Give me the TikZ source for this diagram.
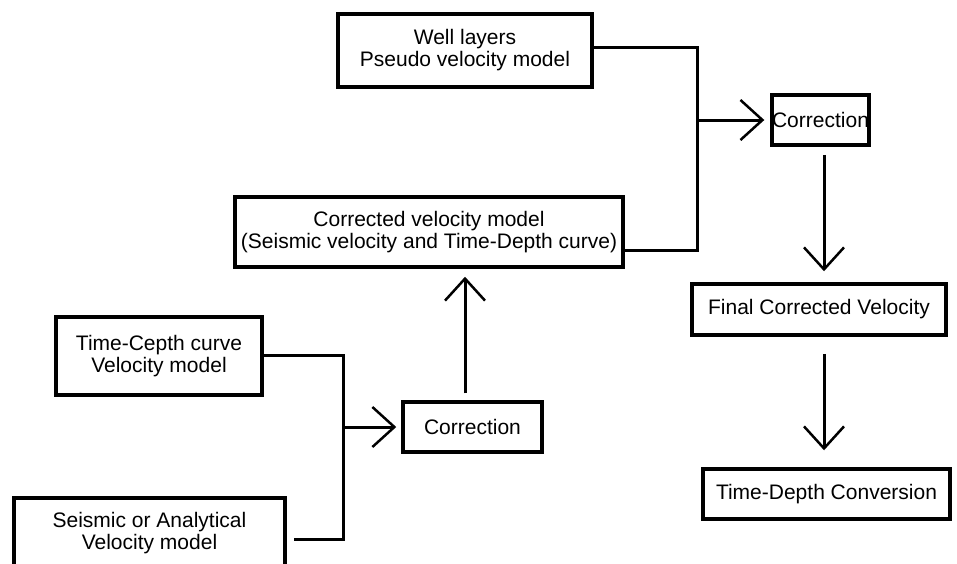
\documentclass[tikz,border=0pt]{standalone}
\usepackage{fontspec}
\setmainfont{Liberation Sans}
\usetikzlibrary{arrows.meta,calc}
\begin{document}
\begin{tikzpicture}[x=1pt,y=-1pt,
  box/.style={draw, line width=3.5pt, inner sep=0pt, align=center,
    font=\fontsize{21}{22}\selectfont},
  conn/.style={line width=3pt},
  arr/.style={line width=3pt, -{Straight Barb[length=22pt,width=40pt,line width=2.5pt]}}]
\clip (0,0) rectangle (957,563);
\fill[white] (0,0) rectangle (957,563);
% nodes
\node[box, minimum width=254pt, minimum height=73pt] (well) at (465,50.5) {Well layers\\Pseudo velocity model};
\node[box, minimum width=95pt, minimum height=50pt] (corr1) at (820.5,120) {Correction};
\node[box, minimum width=388pt, minimum height=70pt] (mid) at (429,232) {Corrected velocity model\\(Seismic velocity and Time-Depth curve)};
\node[box, minimum width=254pt, minimum height=51pt] (final) at (819,309.5) {Final Corrected Velocity};
\node[box, minimum width=247pt, minimum height=50pt] (tdc) at (826.5,494) {Time-Depth Conversion};
\node[box, minimum width=206pt, minimum height=78pt] (tc) at (159,356) {Time-Cepth curve\\Velocity model};
\node[box, minimum width=271pt, minimum height=70pt] (seis) at (149.5,533) {Seismic or Analytical\\Velocity model};
\node[box, minimum width=139pt, minimum height=50pt] (corr2) at (472.5,427) {Correction};
% junction coordinates
\coordinate (rt) at (697,47);
\coordinate (rb) at (697,250);
\coordinate (lt) at (343,355);
\coordinate (lb) at (343,539);
% right merge
\draw[conn] (well.east |- rt) -- (rt) -- (rb) -- (mid.east |- rb);
\draw[arr, shorten >=6pt] (rt |- corr1.west) -- (corr1.west);
% left merge
\draw[conn] (tc.east |- lt) -- (lt) -- (lb) -- ([xshift=7pt]seis.east |- lb);
\draw[arr, shorten >=5pt] (lt |- corr2.west) -- (corr2.west);
% vertical arrows
\draw[arr, shorten >=8pt] ([xshift=-7.5pt,yshift=7pt]corr2.north) -- ([xshift=-7.5pt]corr2.north |- mid.south);
\draw[arr, shorten >=11pt] ([xshift=3.5pt,yshift=-8pt]corr1.south) -- ([xshift=3.5pt]corr1.south |- final.north);
\draw[arr, shorten >=17pt] ([xshift=5pt,yshift=-17pt]final.south) -- ([xshift=5pt]final.south |- tdc.north);
\end{tikzpicture}
\end{document}
